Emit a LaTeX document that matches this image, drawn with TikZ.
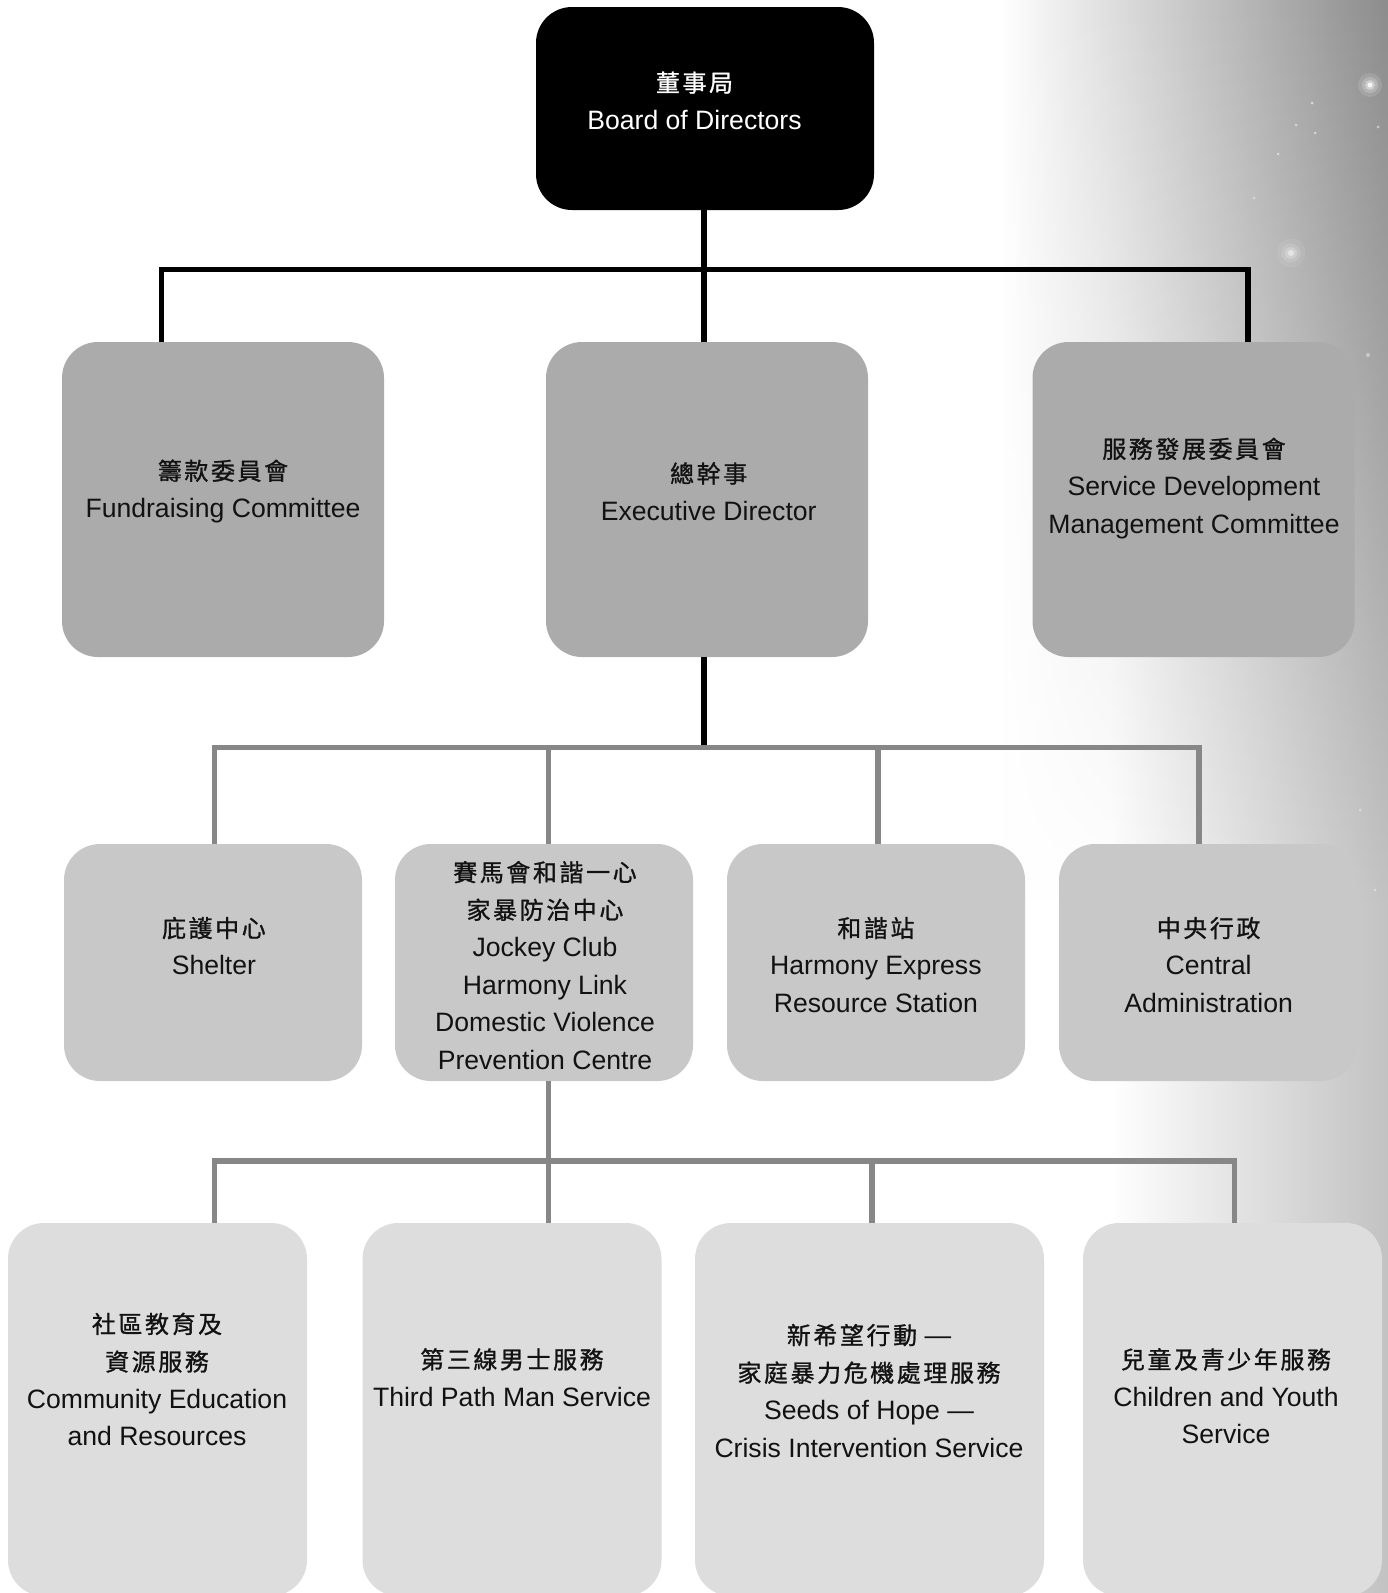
\documentclass[tikz,border=0pt]{standalone}
\usepackage{fontspec}
\setmainfont{Liberation Sans}
\newfontfamily\cjk[FakeBold=1.1, Scale=0.9, LetterSpace=11]{Noto Sans CJK TC}
\usetikzlibrary{fadings}
\definecolor{lvA}{HTML}{AAABAA}
\definecolor{lvB}{HTML}{C8C8C8}
\definecolor{lvC}{HTML}{DCDDDC}
\definecolor{lineg}{HTML}{878787}
\definecolor{bgtop}{HTML}{8C8C8C}
\definecolor{bgbot}{HTML}{C2C2C2}
\tikzfading[name=topfade, top color=transparent!0, bottom color=transparent!100]
\tikzset{
  box/.style={rectangle, rounded corners=36pt, inner sep=0pt, draw=none},
  lvone/.style={box, fill=black},
  lvtwo/.style={box, fill=lvA, minimum width=322, minimum height=315},
  lvthree/.style={box, fill=lvB, minimum width=298, minimum height=237},
  lvfour/.style={box, fill=lvC, minimum width=299, minimum height=373},
  lbl/.style={align=center, font=\fontsize{26.6}{37.6}\selectfont, inner sep=0pt, text=black!93},
  blk/.style={line width=5.5pt, black},
  gry/.style={line width=5.5pt, lineg},
}
\begin{document}
\begin{tikzpicture}[x=1pt,y=-1pt]
\useasboundingbox (0,0) rectangle (1388,1593);
% background
\fill[white] (0,0) rectangle (1388,1593);
\shade[left color=white, right color=bgbot] (1110,0) rectangle (1388,1593);
\shade[left color=white, right color=bgtop, path fading=topfade] (1000,0) rectangle (1388,900);
% sparkles
\foreach \p/\r/\o in {(1312,103)/1.5/0.6,(1296,125)/1.5/0.5,(1315,133)/1.5/0.5,(1278,154)/1.5/0.5,(1254,198)/1.5/0.4,(1378,127)/1.5/0.5,(1368,355)/2/0.4,(1360,810)/1.5/0.4,(1375,890)/1.5/0.4}
  \fill[white, opacity=\o] \p circle (\r);
\foreach \r/\o in {12/0.12,8/0.2,5/0.35,2.5/0.8}{
  \fill[white, opacity=\o] (1370,85) circle (\r);
  \fill[white, opacity=\o*0.6] (1291,253) circle (\r*1.2);
}

% boxes
\node[lvone, minimum width=338, minimum height=203] (board) at (705,108.5) {};
\node[lvtwo] (fund) at (223,499.5) {};
\node[lvtwo] (exec) at (707,499.5) {};
\node[lvtwo] (sdev) at (1193.5,499.5) {};
\node[lvthree] (shelter) at (213,962.5) {};
\node[lvthree] (jc) at (544,962.5) {};
\node[lvthree] (harmony) at (876,962.5) {};
\node[lvthree] (central) at (1208,962.5) {};
\node[lvfour] (comm) at (157.5,1409.5) {};
\node[lvfour] (third) at (512,1409.5) {};
\node[lvfour, minimum width=349] (seeds) at (869.5,1409.5) {};
\node[lvfour] (child) at (1232.5,1409.5) {};

% labels
\node[lbl, text=white] (tboard) at (694.5,100.6) {{\cjk 董事局}\\Board of Directors};
\node[lbl] (tfund) at (223,491.3) {{\cjk 籌款委員會}\\Fundraising Committee};
\node[lbl] (texec) at (708.7,491.3) {{\cjk 總幹事}\\Executive Director};
\node[lbl] (tsdev) at (1194,488.2) {{\cjk 服務發展委員會}\\Service Development\\Management Committee};
\node[lbl] (tshelter) at (213.9,946) {{\cjk 庇護中心}\\Shelter};
\node[lbl] (tjc) at (545,965.3) {{\cjk 賽馬會和諧一心}\\{\cjk 家暴防治中心}\\Jockey Club\\Harmony Link\\Domestic Violence\\Prevention Centre};
\node[lbl] (tharmony) at (875.9,964.8) {{\cjk 和諧站}\\Harmony Express\\Resource Station};
\node[lbl] (tcentral) at (1208.6,964.8) {{\cjk 中央行政}\\Central\\Administration};
\node[lbl] (tcomm) at (157,1379.4) {{\cjk 社區教育及}\\{\cjk 資源服務}\\Community Education\\and Resources};
\node[lbl] (tthird) at (512,1377.3) {{\cjk 第三線男士服務}\\Third Path Man Service};
\node[lbl] (tseeds) at (869,1390.6) {{\cjk 新希望行動} —\\{\cjk 家庭暴力危機處理服務}\\Seeds of Hope —\\Crisis Intervention Service};
\node[lbl] (tchild) at (1226,1396.1) {{\cjk 兒童及青少年服務}\\Children and Youth\\Service};

% top level connectors
\coordinate (busA) at (704,269.5);
\coordinate (fdrop) at (161.5,269.5);
\coordinate (sdrop) at (1248,269.5);
\draw[blk] (board.south -| busA) -- (exec.north -| busA);
\draw[blk] (fund.north -| fdrop) -- (fdrop) -- (sdrop) -- (sdev.north -| sdrop);

% second level connectors
\coordinate (busB) at (704,747.5);
\coordinate (d1) at (214.4,747.5);
\coordinate (d2) at (548.7,747.5);
\coordinate (d3) at (877.9,747.5);
\coordinate (d4) at (1199,747.5);
\draw[blk] (exec.south -| busB) -- ([yshift=-2.5pt]busB);
\draw[gry] (shelter.north -| d1) -- (d1) -- (d4) -- (central.north -| d4);
\draw[gry] (d2) -- (jc.north -| d2);
\draw[gry] (d3) -- (harmony.north -| d3);

% third level connectors
\coordinate (busC) at (548.7,1161);
\coordinate (e1) at (214.4,1161);
\coordinate (e3) at (871.8,1161);
\coordinate (e4) at (1234.5,1161);
\draw[gry] (jc.south -| busC) -- (third.north -| busC);
\draw[gry] (comm.north -| e1) -- (e1) -- (e4) -- (child.north -| e4);
\draw[gry] (e3) -- (seeds.north -| e3);
\end{tikzpicture}
\end{document}
